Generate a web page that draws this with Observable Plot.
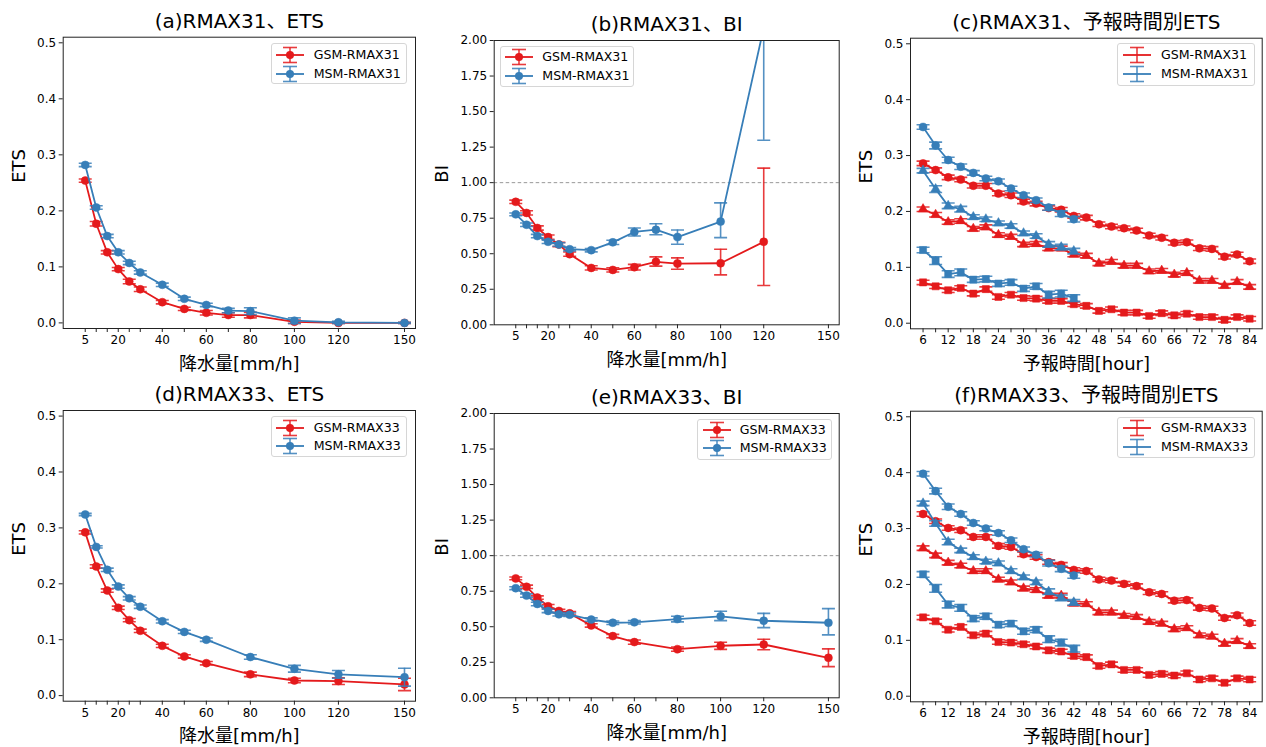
<!DOCTYPE html>
<html><head><meta charset="utf-8">
<script src="https://cdn.jsdelivr.net/npm/d3@7"></script>
<script src="https://cdn.jsdelivr.net/npm/@observablehq/plot@0.6"></script>
<style>
body{margin:0;background:#fff;}
#root{position:relative;width:1266px;height:747px;overflow:hidden;background:#fff;font-family:"DejaVu Sans","Noto Sans CJK JP",sans-serif;}
#root svg.panel{position:absolute;overflow:visible;}
.legend{position:absolute;border:1px solid #d6d6d6;border-radius:3px;background:rgba(255,255,255,0.85);box-sizing:border-box;}
.legend .icon{position:absolute;}
.legend .lab{position:absolute;font-size:12.6px;line-height:18px;height:18px;white-space:nowrap;color:#000;}
</style>
</head><body><div id="root"></div>
<script>
// ---------------- DATA ----------------
const thresholds31 = [5,10,15,20,25,30,40,50,60,70,80,100,120,150];
const etsGSM31    = [0.254,0.177,0.126,0.096,0.074,0.060,0.037,0.025,0.018,0.014,0.014,0.002,0.000,0.000];
const etsGSM31Err = [0.003,0.004,0.003,0.003,0.004,0.004,0.003,0.003,0.004,0.004,0.005,0.003,0.001,0.001];
const etsMSM31    = [0.282,0.206,0.155,0.126,0.107,0.090,0.068,0.043,0.032,0.022,0.021,0.004,0.001,0.000];
const etsMSM31Err = [0.003,0.003,0.003,0.003,0.003,0.003,0.003,0.003,0.003,0.004,0.006,0.005,0.002,0.001];

const biThresholds31 = [5,10,15,20,25,30,40,50,60,70,80,100,120];
const biGSM31      = [0.865,0.787,0.681,0.617,0.565,0.497,0.400,0.386,0.405,0.443,0.431,0.433,0.584];
const biGSM31ErrLo = [0.012,0.015,0.015,0.015,0.015,0.015,0.015,0.015,0.020,0.030,0.040,0.082,0.308];
const biGSM31ErrHi = [0.012,0.015,0.015,0.015,0.015,0.015,0.015,0.015,0.020,0.035,0.040,0.099,0.518];
const biMSM31      = [0.777,0.704,0.624,0.584,0.565,0.532,0.525,0.580,0.653,0.669,0.617,0.726,2.090];
const biMSM31ErrLo = [0.010,0.012,0.012,0.012,0.012,0.012,0.012,0.015,0.028,0.035,0.050,0.113,0.792];
const biMSM31ErrHi = [0.010,0.012,0.012,0.012,0.012,0.012,0.012,0.015,0.028,0.042,0.050,0.132,0.900];

const thresholds33 = [5,10,15,20,25,30,40,50,60,80,100,120,150];
const etsGSM33    = [0.292,0.231,0.188,0.157,0.135,0.116,0.089,0.070,0.058,0.038,0.027,0.026,0.020];
const etsGSM33Err = [0.003,0.003,0.003,0.003,0.003,0.003,0.003,0.003,0.003,0.004,0.004,0.006,0.011];
const etsMSM33    = [0.324,0.266,0.225,0.195,0.174,0.159,0.133,0.114,0.100,0.069,0.048,0.038,0.033];
const etsMSM33Err = [0.002,0.002,0.003,0.003,0.003,0.003,0.003,0.003,0.003,0.004,0.006,0.007,0.016];

const biGSM33      = [0.840,0.781,0.705,0.644,0.611,0.594,0.509,0.434,0.392,0.342,0.366,0.375,0.281];
const biGSM33ErrLo = [0.010,0.012,0.012,0.012,0.012,0.012,0.012,0.012,0.015,0.015,0.025,0.037,0.062];
const biGSM33ErrHi = [0.010,0.012,0.012,0.012,0.012,0.012,0.012,0.012,0.015,0.015,0.025,0.037,0.063];
const biMSM33      = [0.771,0.719,0.660,0.611,0.587,0.585,0.550,0.528,0.531,0.554,0.573,0.542,0.528];
const biMSM33ErrLo = [0.010,0.012,0.012,0.012,0.012,0.012,0.012,0.012,0.012,0.020,0.030,0.048,0.085];
const biMSM33ErrHi = [0.010,0.012,0.012,0.012,0.012,0.012,0.012,0.012,0.012,0.020,0.036,0.052,0.099];

const leadGSM = [6,9,12,15,18,21,24,27,30,33,36,39,42,45,48,51,54,57,60,63,66,69,72,75,78,81,84];
const leadMSM = [6,9,12,15,18,21,24,27,30,33,36,39,42];

// (c) RMAX31 by lead time
const c_GSM_circle   = [0.286,0.274,0.261,0.257,0.246,0.246,0.232,0.229,0.218,0.214,0.206,0.203,0.192,0.189,0.177,0.173,0.170,0.166,0.157,0.153,0.144,0.145,0.134,0.133,0.119,0.123,0.111];
const c_GSM_triangle = [0.204,0.194,0.181,0.183,0.169,0.172,0.158,0.155,0.141,0.142,0.134,0.134,0.123,0.121,0.107,0.110,0.103,0.103,0.093,0.094,0.087,0.090,0.076,0.076,0.067,0.074,0.065];
const c_GSM_square   = [0.073,0.066,0.059,0.063,0.053,0.061,0.047,0.051,0.045,0.044,0.040,0.040,0.034,0.031,0.022,0.025,0.019,0.019,0.013,0.018,0.014,0.017,0.011,0.011,0.006,0.011,0.008];
const c_MSM_circle   = [0.351,0.318,0.292,0.280,0.269,0.259,0.254,0.241,0.229,0.220,0.207,0.196,0.186];
const c_MSM_triangle = [0.273,0.240,0.210,0.204,0.190,0.186,0.179,0.174,0.161,0.156,0.141,0.136,0.129];
const c_MSM_square   = [0.131,0.112,0.088,0.091,0.078,0.079,0.071,0.073,0.062,0.066,0.051,0.053,0.045];
const c_GSM_err = [0.004,0.004,0.004,0.004,0.004,0.004,0.004,0.004,0.004,0.004,0.004,0.004,0.004,0.004,0.004,0.004,0.004,0.004,0.004,0.004,0.004,0.004,0.004,0.004,0.004,0.004,0.004];
const c_MSM_err = [0.004,0.006,0.005,0.005,0.004,0.004,0.004,0.004,0.004,0.004,0.005,0.005,0.005];
const c_MSM_sqErr = [0.005,0.007,0.006,0.006,0.005,0.005,0.005,0.005,0.005,0.005,0.006,0.006,0.006];

// (f) RMAX33 by lead time
const f_GSM_circle   = [0.326,0.313,0.301,0.297,0.285,0.285,0.269,0.267,0.254,0.249,0.240,0.235,0.226,0.224,0.209,0.207,0.201,0.197,0.186,0.183,0.171,0.172,0.158,0.157,0.140,0.145,0.131];
const f_GSM_triangle = [0.265,0.252,0.239,0.234,0.224,0.224,0.209,0.204,0.193,0.190,0.180,0.180,0.166,0.165,0.150,0.150,0.144,0.142,0.133,0.130,0.120,0.122,0.109,0.107,0.094,0.099,0.090];
const f_GSM_square   = [0.141,0.134,0.119,0.124,0.109,0.112,0.097,0.096,0.093,0.089,0.082,0.080,0.072,0.070,0.054,0.057,0.047,0.047,0.038,0.040,0.037,0.041,0.030,0.032,0.024,0.032,0.030];
const f_MSM_circle   = [0.398,0.367,0.339,0.326,0.310,0.300,0.292,0.279,0.263,0.253,0.238,0.228,0.216];
const f_MSM_triangle = [0.345,0.309,0.276,0.261,0.249,0.241,0.238,0.224,0.213,0.204,0.187,0.176,0.168];
const f_MSM_square   = [0.218,0.193,0.164,0.158,0.139,0.143,0.128,0.130,0.116,0.119,0.102,0.096,0.085];
const f_GSM_err = [0.004,0.004,0.004,0.004,0.004,0.004,0.004,0.004,0.004,0.004,0.004,0.004,0.004,0.004,0.004,0.004,0.004,0.004,0.004,0.004,0.004,0.004,0.004,0.004,0.004,0.004,0.004];
const f_MSM_err = [0.004,0.005,0.005,0.004,0.004,0.004,0.004,0.004,0.004,0.004,0.005,0.005,0.005];
const f_MSM_sqErr = [0.005,0.007,0.006,0.006,0.005,0.005,0.005,0.005,0.005,0.005,0.006,0.006,0.006];

// ticks
const thrTicks  = [5,10,15,20,25,30,40,50,60,70,80,100,120,150];
const thrLabels = [5,20,40,60,80,100,120,150];
const leadTicks = [6,9,12,15,18,21,24,27,30,33,36,39,42,45,48,51,54,57,60,63,66,69,72,75,78,81,84];
const leadLabels = [6,12,18,24,30,36,42,48,54,60,66,72,78,84];
const etsTicks = [0,0.1,0.2,0.3,0.4,0.5];
const biTicks  = [0,0.25,0.5,0.75,1.0,1.25,1.5,1.75,2.0];

const titles = ["(a)RMAX31、ETS","(b)RMAX31、BI","(c)RMAX31、予報時間別ETS","(d)RMAX33、ETS","(e)RMAX33、BI","(f)RMAX33、予報時間別ETS"];
const xLabelThr = "降水量[mm/h]";
const xLabelLead = "予報時間[hour]";

// ---------------- DRAWING ----------------
const RED = "#e41a1c", BLUE = "#377eb8";
const FONT = "'DejaVu Sans','Noto Sans CJK JP',sans-serif";
const CAP = {draw(ctx){ ctx.moveTo(-6.5,0); ctx.lineTo(6.5,0); }};
const EOP = 0.85;

function errLayers(xs, ys, esLo, esHi, color, symbol, r) {
  const data = xs.map((x,i)=>({x, y: ys[i], lo: ys[i]-esLo[i], hi: ys[i]+esHi[i]}));
  return [
    Plot.line(data, {x:"x", y:"y", stroke: color, strokeWidth: 1.8, clip: true}),
    Plot.ruleX(data, {x:"x", y1:"lo", y2:"hi", stroke: color, strokeWidth: 1.6, strokeOpacity: EOP, clip: true}),
    Plot.dot(data, {x:"x", y:"hi", symbol: CAP, stroke: color, strokeWidth: 1.6, strokeOpacity: EOP, fill: "none", clip: true}),
    Plot.dot(data, {x:"x", y:"lo", symbol: CAP, stroke: color, strokeWidth: 1.6, strokeOpacity: EOP, fill: "none", clip: true}),
    Plot.dot(data, {x:"x", y:"y", symbol, r, fill: color, stroke: color, strokeWidth: 0.5, clip: true})
  ];
}

const root = document.getElementById("root");

function panel(cfg) {
  const {left, top, W, H, mL, mT, mR, mB, xDomain, yDomain, xTicks, xLabels, yTicks, yFmt, title, xLabel, yLabel, yLabelDx, series, refLine} = cfg;
  const marks = [];
  if (refLine != null) marks.push(Plot.ruleY([refLine], {stroke: "#8c8c8c", strokeWidth: 0.9, strokeDasharray: "3.5,2.5"}));
  for (const s of series) marks.push(...errLayers(s.xs, s.ys, s.lo, s.hi || s.lo, s.color, s.symbol, s.r));
  marks.push(
    Plot.axisX(xTicks, {tickFormat: d => xLabels.includes(d) ? String(d) : "", tickSize: 4, tickPadding: 3, label: null, fontSize: 12, stroke: "#222"}),
    Plot.axisY(yTicks, {tickFormat: d3.format(yFmt), tickSize: 4, tickPadding: 3, label: null, fontSize: 12, stroke: "#222"}),
    Plot.frame({stroke: "#222", strokeWidth: 1}),
    Plot.text([title], {frameAnchor: "top", lineAnchor: "middle", dy: -15.5, fontSize: 20, fill: "#000"}),
    Plot.text([xLabel], {frameAnchor: "bottom", lineAnchor: "middle", dy: 35.5, fontSize: 18, fill: "#000"}),
    Plot.text([yLabel], {frameAnchor: "left", rotate: -90, lineAnchor: "middle", dx: yLabelDx, fontSize: 18, fill: "#000"})
  );
  const svg = Plot.plot({
    width: W, height: H,
    marginLeft: mL, marginTop: mT, marginRight: mR, marginBottom: mB,
    x: {domain: xDomain},
    y: {domain: yDomain},
    style: {fontFamily: FONT, fontSize: "12px", color: "#000", background: "transparent", overflow: "visible"},
    marks
  });
  svg.classList.add("panel");
  svg.style.left = left + "px";
  svg.style.top = top + "px";
  root.appendChild(svg);
}

function legend(cfg) {
  const {left, top, w, h, iconX, textX, rows, marker} = cfg;
  const div = document.createElement("div");
  div.className = "legend";
  Object.assign(div.style, {left: left+"px", top: top+"px", width: w+"px", height: h+"px"});
  for (const r of rows) {
    const ns = "http://www.w3.org/2000/svg";
    const svg = document.createElementNS(ns, "svg");
    svg.setAttribute("width", 30); svg.setAttribute("height", 18);
    svg.setAttribute("class", "icon");
    svg.style.left = iconX + "px"; svg.style.top = (r.y - 9) + "px";
    const c = r.color;
    let inner = `<line x1="1" y1="9" x2="29" y2="9" stroke="${c}" stroke-width="1.8"/>`+
      `<line x1="15" y1="1.5" x2="15" y2="16.5" stroke="${c}" stroke-width="1.6" stroke-opacity="${EOP}"/>`+
      `<line x1="8" y1="1.5" x2="22" y2="1.5" stroke="${c}" stroke-width="1.6" stroke-opacity="${EOP}"/>`+
      `<line x1="8" y1="16.5" x2="22" y2="16.5" stroke="${c}" stroke-width="1.6" stroke-opacity="${EOP}"/>`;
    if (marker) inner += `<circle cx="15" cy="9" r="4" fill="${c}"/>`;
    svg.innerHTML = inner;
    div.appendChild(svg);
    const lab = document.createElement("div");
    lab.className = "lab";
    lab.textContent = r.label;
    lab.style.left = textX + "px"; lab.style.top = (r.y - 9) + "px";
    div.appendChild(lab);
  }
  root.appendChild(div);
}

const thrCommon = {xDomain: [-5,155], xTicks: thrTicks, xLabels: thrLabels, xLabel: xLabelThr};
const leadCommon = {xDomain: [3,87], xTicks: leadTicks, xLabels: leadLabels, xLabel: xLabelLead};
const etsCommon = {yDomain: [-0.01,0.51], yTicks: etsTicks, yFmt: ".1f", yLabel: "ETS"};
const biCommon = {yDomain: [0,2], yTicks: biTicks, yFmt: ".2f", yLabel: "BI", refLine: 1};

// (a)
panel({...thrCommon, ...etsCommon, left: 0, top: 0, W: 422, H: 374, mL: 62.7, mT: 36.7, mR: 7, mB: 46,
  title: titles[0], yLabelDx: -44.4,
  series: [
    {xs: thresholds31, ys: etsGSM31, lo: etsGSM31Err, color: RED, symbol: "circle", r: 4},
    {xs: thresholds31, ys: etsMSM31, lo: etsMSM31Err, color: BLUE, symbol: "circle", r: 4}
  ]});
// (b)
panel({...thrCommon, ...biCommon, left: 422, top: 0, W: 422, H: 374, mL: 71.7, mT: 40, mR: 5.3, mB: 49.7,
  title: titles[1], yLabelDx: -52.4,
  series: [
    {xs: biThresholds31, ys: biGSM31, lo: biGSM31ErrLo, hi: biGSM31ErrHi, color: RED, symbol: "circle", r: 4},
    {xs: biThresholds31, ys: biMSM31, lo: biMSM31ErrLo, hi: biMSM31ErrHi, color: BLUE, symbol: "circle", r: 4}
  ]});
// (c)
panel({...leadCommon, ...etsCommon, left: 844, top: 0, W: 422, H: 374, mL: 66, mT: 37.7, mR: 4.3, mB: 45.7,
  title: titles[2], yLabelDx: -44.3,
  series: [
    {xs: leadGSM, ys: c_GSM_circle, lo: c_GSM_err, color: RED, symbol: "circle", r: 4},
    {xs: leadGSM, ys: c_GSM_triangle, lo: c_GSM_err, color: RED, symbol: "triangle", r: 3.6},
    {xs: leadGSM, ys: c_GSM_square, lo: c_GSM_err, color: RED, symbol: "square", r: 4},
    {xs: leadMSM, ys: c_MSM_circle, lo: c_MSM_err, color: BLUE, symbol: "circle", r: 4},
    {xs: leadMSM, ys: c_MSM_triangle, lo: c_MSM_err, color: BLUE, symbol: "triangle", r: 3.6},
    {xs: leadMSM, ys: c_MSM_square, lo: c_MSM_sqErr, color: BLUE, symbol: "square", r: 4}
  ]});
// (d)
panel({...thrCommon, ...etsCommon, left: 0, top: 374, W: 422, H: 373, mL: 62.7, mT: 36, mR: 7, mB: 46.3,
  title: titles[3], yLabelDx: -44.4,
  series: [
    {xs: thresholds33, ys: etsGSM33, lo: etsGSM33Err, color: RED, symbol: "circle", r: 4},
    {xs: thresholds33, ys: etsMSM33, lo: etsMSM33Err, color: BLUE, symbol: "circle", r: 4}
  ]});
// (e)
panel({...thrCommon, ...biCommon, left: 422, top: 374, W: 422, H: 373, mL: 71.7, mT: 39, mR: 5.3, mB: 49.7,
  title: titles[4], yLabelDx: -52.4,
  series: [
    {xs: thresholds33, ys: biGSM33, lo: biGSM33ErrLo, hi: biGSM33ErrHi, color: RED, symbol: "circle", r: 4},
    {xs: thresholds33, ys: biMSM33, lo: biMSM33ErrLo, hi: biMSM33ErrHi, color: BLUE, symbol: "circle", r: 4}
  ]});
// (f)
panel({...leadCommon, ...etsCommon, left: 844, top: 374, W: 422, H: 373, mL: 66, mT: 36.7, mR: 4.3, mB: 45.7,
  title: titles[5], yLabelDx: -44.3,
  series: [
    {xs: leadGSM, ys: f_GSM_circle, lo: f_GSM_err, color: RED, symbol: "circle", r: 4},
    {xs: leadGSM, ys: f_GSM_triangle, lo: f_GSM_err, color: RED, symbol: "triangle", r: 3.6},
    {xs: leadGSM, ys: f_GSM_square, lo: f_GSM_err, color: RED, symbol: "square", r: 4},
    {xs: leadMSM, ys: f_MSM_circle, lo: f_MSM_err, color: BLUE, symbol: "circle", r: 4},
    {xs: leadMSM, ys: f_MSM_triangle, lo: f_MSM_err, color: BLUE, symbol: "triangle", r: 3.6},
    {xs: leadMSM, ys: f_MSM_square, lo: f_MSM_sqErr, color: BLUE, symbol: "square", r: 4}
  ]});

// legends
legend({left: 270.7, top: 43.3, w: 136.6, h: 41, iconX: 3, textX: 42, marker: true,
  rows: [{y: 10.7, color: RED, label: "GSM-RMAX31"}, {y: 29.4, color: BLUE, label: "MSM-RMAX31"}]});
legend({left: 500.3, top: 46, w: 134, h: 41.3, iconX: 3, textX: 41, marker: true,
  rows: [{y: 10, color: RED, label: "GSM-RMAX31"}, {y: 29, color: BLUE, label: "MSM-RMAX31"}]});
legend({left: 1117.3, top: 43.3, w: 137.4, h: 42.4, iconX: 4, textX: 42.7, marker: false,
  rows: [{y: 11, color: RED, label: "GSM-RMAX31"}, {y: 29.4, color: BLUE, label: "MSM-RMAX31"}]});
legend({left: 270.7, top: 416.3, w: 136.6, h: 41, iconX: 3, textX: 42, marker: true,
  rows: [{y: 10.4, color: RED, label: "GSM-RMAX33"}, {y: 28.7, color: BLUE, label: "MSM-RMAX33"}]});
legend({left: 697.3, top: 419, w: 134.7, h: 40.7, iconX: 3.7, textX: 41.4, marker: true,
  rows: [{y: 10, color: RED, label: "GSM-RMAX33"}, {y: 28.3, color: BLUE, label: "MSM-RMAX33"}]});
legend({left: 1117.3, top: 416.7, w: 137.7, h: 41.3, iconX: 4, textX: 42.7, marker: false,
  rows: [{y: 10.6, color: RED, label: "GSM-RMAX33"}, {y: 29.6, color: BLUE, label: "MSM-RMAX33"}]});
</script>
</body></html>
